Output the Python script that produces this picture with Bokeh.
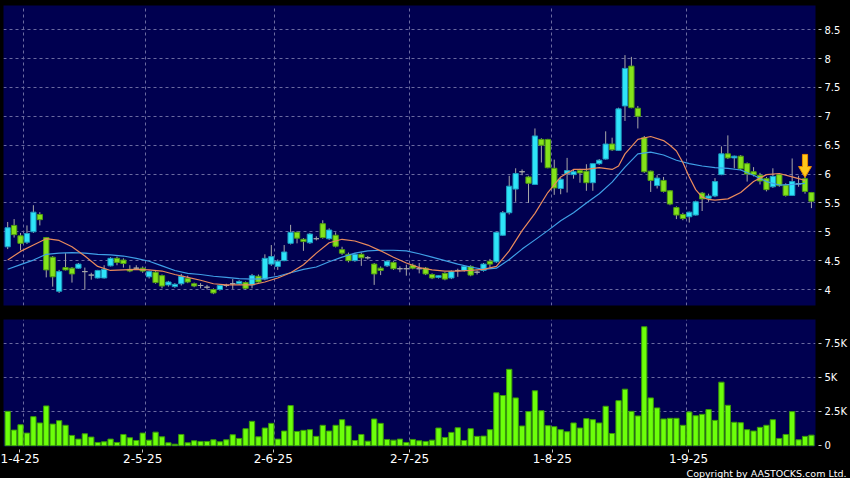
from bokeh.plotting import figure
from bokeh.layouts import column
from bokeh.models import Range1d, FixedTicker, Grid, Title, ColumnDataSource
from bokeh.embed import file_html
from bokeh.resources import INLINE

# ---------------- data ----------------
opens = [4.74,5.11,4.93,4.82,5.00,5.30,4.90,4.56,3.97,4.38,
         4.37,4.37,4.31,4.25,4.20,4.20,4.41,4.54,4.51,4.35,
         4.37,4.37,4.22,4.30,4.24,4.08,4.05,4.10,4.19,4.10,
         4.07,4.04,4.00,4.00,4.07,4.10,4.10,4.12,4.08,4.23,
         4.18,4.44,4.40,4.50,4.80,4.99,4.87,4.81,4.88,5.14,
         4.88,4.94,4.69,4.61,4.50,4.61,4.55,4.44,4.37,4.41,
         4.47,4.36,4.36,4.42,4.36,4.37,4.26,4.21,4.28,4.20,
         4.33,4.33,4.40,4.30,4.33,4.49,4.48,4.94,5.33,5.74,
         6.04,5.95,5.82,6.60,6.60,6.10,5.75,6.01,5.99,6.06,
         6.05,5.85,6.18,6.26,6.52,6.41,7.18,7.87,7.14,6.63,
         6.05,5.80,5.89,5.71,5.42,5.30,5.26,5.29,5.67,5.58,
         5.62,5.99,6.35,6.28,6.31,6.18,6.04,5.98,5.92,5.78,
         5.99,5.81,5.63,5.83,5.92,5.68]
highs = [5.17,5.22,4.98,5.11,5.46,5.34,4.91,4.58,4.34,4.63,
         4.39,4.46,4.38,4.29,4.34,4.42,4.56,4.57,4.54,4.42,
         4.42,4.40,4.33,4.32,4.26,4.15,4.11,4.27,4.24,4.12,
         4.11,4.08,4.02,4.09,4.10,4.18,4.16,4.14,4.27,4.26,
         4.61,4.77,4.52,4.77,5.12,5.01,4.89,4.98,4.92,5.20,
         5.06,4.99,4.74,4.64,4.63,4.64,4.58,4.46,4.40,4.51,
         4.49,4.40,4.43,4.45,4.46,4.39,4.28,4.25,4.30,4.33,
         4.36,4.42,4.42,4.33,4.46,4.53,5.00,5.36,5.97,6.10,
         6.08,5.97,6.79,6.62,6.61,6.25,5.94,6.28,6.08,6.09,
         6.17,6.18,6.26,6.74,6.63,7.15,8.06,8.03,7.18,6.66,
         6.06,5.98,5.95,5.72,5.44,5.33,5.35,5.54,5.69,5.66,
         5.93,6.48,6.67,6.32,6.33,6.20,6.12,6.02,5.95,6.10,
         6.01,5.84,6.27,5.97,5.96,5.69]
lows = [4.70,4.90,4.68,4.79,4.98,5.11,4.21,4.05,3.94,4.33,
        4.12,4.36,4.00,4.17,4.19,4.19,4.40,4.42,4.38,4.30,
        4.34,4.29,4.19,4.10,4.02,4.05,4.03,4.07,4.11,4.04,
        4.02,4.00,3.92,3.98,4.04,4.01,4.08,4.00,4.02,4.12,
        4.16,4.41,4.34,4.49,4.78,4.80,4.67,4.79,4.85,4.88,
        4.86,4.73,4.60,4.47,4.48,4.41,4.52,4.08,4.25,4.39,
        4.34,4.30,4.24,4.35,4.28,4.25,4.18,4.19,4.16,4.18,
        4.22,4.31,4.23,4.26,4.31,4.38,4.46,4.93,5.30,5.52,
        5.98,5.50,5.81,6.20,6.10,5.64,5.65,5.68,5.92,5.85,
        5.71,5.71,6.16,6.25,6.40,6.40,6.92,7.14,6.79,6.02,
        5.69,5.75,5.68,5.46,5.22,5.20,5.16,5.28,5.36,5.52,
        5.60,5.98,6.26,6.10,6.07,5.87,5.96,5.82,5.70,5.76,
        5.78,5.61,5.62,5.78,5.66,5.41]
closes = [5.07,4.95,4.80,4.97,5.34,5.21,4.34,4.22,4.31,4.34,
          4.27,4.44,4.31,4.25,4.33,4.35,4.54,4.47,4.45,4.32,
          4.37,4.32,4.31,4.12,4.06,4.13,4.09,4.23,4.13,4.06,
          4.07,4.04,3.94,4.07,4.07,4.10,4.14,4.02,4.24,4.13,
          4.54,4.57,4.49,4.65,4.99,4.89,4.83,4.96,4.88,4.90,
          5.03,4.75,4.63,4.50,4.61,4.55,4.55,4.27,4.33,4.49,
          4.36,4.36,4.36,4.37,4.36,4.27,4.20,4.24,4.18,4.31,
          4.33,4.40,4.25,4.30,4.44,4.44,4.99,5.33,5.79,6.01,
          6.04,5.84,6.66,6.50,6.11,5.76,5.91,6.06,6.04,6.02,
          5.85,6.18,6.24,6.52,6.42,7.13,7.83,7.15,7.00,6.04,
          5.89,5.93,5.70,5.48,5.29,5.23,5.34,5.52,5.57,5.62,
          5.87,6.35,6.28,6.31,6.09,6.00,5.99,5.88,5.73,5.96,
          5.80,5.63,5.87,5.83,5.70,5.53]
volumes = [2520,1150,1540,930,2130,1670,2915,1590,1840,1500,
           760,490,880,640,245,295,490,245,830,590,
           390,930,415,1000,660,220,120,830,220,370,
           320,320,440,295,440,810,540,1250,1790,660,
           1300,1640,490,1080,2940,1050,1130,1180,690,1500,
           1080,1500,1910,1450,390,830,340,1960,1640,465,
           415,490,245,465,370,320,415,
           1300,610,980,1320,390,1250,690,710,1180,3870,
           3675,5590,3500,1450,2500,4020,2570,1470,1400,1180,
           1030,1670,1300,1985,1910,1670,2890,900,3300,4140,
           2520,2180,8700,3500,2770,1960,2010,2010,1500,2470,
           2200,2300,2650,1860,4650,2960,1720,1690,1180,1080,
           1350,1500,1910,540,830,2500,440,690,780]

ma_short_idx = [0,2,4,6,8,10,12,14,16,18,20,22,24,26,28,30,32,34,36,38,
                40,42,44,46,48,50,52,54,56,58,60,62,64,66,68,70,72,74,76,78,
                80,82,84,86,88,90,92,94,95,96,98,100,102,103,104,105,106,107,
                108,109,110,112,114,116,118,120,122,124]
ma_short = [4.51,4.66,4.77,4.88,4.85,4.74,4.58,4.40,4.33,4.34,
            4.35,4.34,4.32,4.26,4.21,4.16,4.10,4.08,4.08,4.08,
            4.13,4.20,4.29,4.43,4.63,4.81,4.87,4.84,4.77,4.67,
            4.56,4.46,4.38,4.34,4.32,4.32,4.33,4.35,4.40,4.67,
            5.02,5.32,5.68,5.95,6.08,6.08,6.11,6.08,
            6.14,6.35,6.60,6.65,6.58,6.50,6.40,6.20,5.95,5.73,
            5.60,5.56,5.55,5.57,5.68,5.87,5.99,6.01,5.95,5.89]
ma_long_idx = [0,2,4,6,8,10,12,14,16,18,20,22,24,26,28,30,32,34,36,38,
               40,42,44,46,48,50,52,54,56,58,60,62,64,66,68,70,72,74,76,78,
               80,82,84,86,88,90,92,94,96,98,100,102,104,106,108,110,112,114,
               116,118,120,122,124]
ma_long = [4.35,4.43,4.51,4.61,4.63,4.64,4.63,4.61,4.60,4.58,
           4.54,4.49,4.41,4.33,4.28,4.26,4.23,4.21,4.19,4.18,
           4.19,4.23,4.29,4.35,4.39,4.48,4.56,4.63,4.67,4.68,
           4.68,4.67,4.62,4.56,4.50,4.44,4.39,4.35,4.37,4.52,
           4.70,4.86,5.02,5.19,5.33,5.50,5.66,5.86,6.12,6.35,
           6.38,6.33,6.24,6.18,6.14,6.11,6.10,6.07,5.98,5.87,
           5.81,5.82,5.84]

month_first_idx = [3, 22, 42, 63, 85, 106]
date_tick_pos = [1.9, 21.0, 41.3, 62.5, 84.7, 105.9]
date_labels = ["1-4-25", "2-5-25", "2-6-25", "2-7-25", "1-8-25", "1-9-25"]
price_ticks = [4, 4.5, 5, 5.5, 6, 6.5, 7, 7.5, 8, 8.5]
vol_ticks = [0, 2500, 5000, 7500]
vol_labels = ["0", "2.5K", "5K", "7.5K"]
arrow_idx = 124
arrow_tip = 5.94

# ---------------- styles ----------------
NAVY = "#000050"
GRID = "#6a6aa0"
FONT = "DejaVu Sans"
UP_FILL, UP_LINE = "#2ee4f8", "#1d9cc0"
DN_FILL, DN_LINE = "#84e31a", "#4f9c12"
DOJI = "#a8a8a8"

n = len(opens)
xs = list(range(n))
tops = [max(o, c) for o, c in zip(opens, closes)]
bots = [min(o, c) for o, c in zip(opens, closes)]
fills = [UP_FILL if c > o else (DN_FILL if c < o else DOJI) for o, c in zip(opens, closes)]
lines = [UP_LINE if c > o else (DN_LINE if c < o else DOJI) for o, c in zip(opens, closes)]
src = ColumnDataSource(dict(x=xs, top=tops, bottom=bots, high=highs, low=lows,
                            fill=fills, line=lines, vol=volumes))

x_lo, x_hi = -0.65, 125.63
grid_x = [m - 0.5 for m in month_first_idx]


def style_common(fig):
    for g in list(fig.grid):
        g.visible = False
    fig.add_layout(Grid(dimension=0, ticker=FixedTicker(ticks=grid_x),
                        grid_line_color=GRID, grid_line_dash="3 3", grid_line_width=1))
    ax = fig.yaxis[0]
    ax.axis_line_color = None
    ax.major_tick_line_color = "#c8c8c8"
    ax.minor_tick_line_color = None
    ax.major_tick_in = -3
    ax.major_tick_out = 6
    ax.major_label_standoff = 3
    ax.major_label_text_color = "#ffffff"
    ax.major_label_text_font = FONT
    ax.major_label_text_font_size = "10px"


# ---------------- price panel ----------------
p = figure(width=850, height=312, x_range=Range1d(x_lo, x_hi), y_range=Range1d(3.723, 8.92),
           x_axis_location=None, y_axis_location="right",
           output_backend="svg", toolbar_location=None,
           min_border_left=3, min_border_right=35, min_border_top=5, min_border_bottom=7,
           background_fill_color=NAVY, border_fill_color="#000000", outline_line_color=None)
style_common(p)
p.yaxis[0].ticker = FixedTicker(ticks=price_ticks)
p.yaxis[0].major_label_overrides = {t: f"{t:g}" for t in price_ticks}
p.add_layout(Grid(dimension=1, ticker=FixedTicker(ticks=price_ticks),
                  grid_line_color=GRID, grid_line_dash="3 3", grid_line_width=1))

p.segment(x0="x", y0="low", x1="x", y1="high", source=src, line_color=DOJI, line_width=1)
p.vbar(x="x", top="top", bottom="bottom", width=0.82, source=src,
       fill_color="fill", line_color="line", line_width=1)
p.line(ma_long_idx, ma_long, line_color="#3f9fe6", line_width=1.2)
p.line(ma_short_idx, ma_short, line_color="#e98a5c", line_width=1.2)

# highlight arrow above the latest-but-one candle
ax_, at_ = arrow_idx, arrow_tip
p.patch([ax_, ax_ - 1.0, ax_ - 0.4, ax_ - 0.4, ax_ + 0.4, ax_ + 0.4, ax_ + 1.0],
        [at_, at_ + 0.19, at_ + 0.19, at_ + 0.40, at_ + 0.40, at_ + 0.19, at_ + 0.19],
        fill_color="#ffc81a", line_color="#e88a00", line_width=1)

# ---------------- volume panel ----------------
v = figure(width=850, height=166, x_range=p.x_range, y_range=Range1d(-50, 9230),
           x_axis_location="below", y_axis_location="right",
           output_backend="svg", toolbar_location=None,
           min_border_left=3, min_border_right=35, min_border_top=7, min_border_bottom=0,
           background_fill_color=NAVY, border_fill_color="#000000", outline_line_color=None)
style_common(v)
v.yaxis[0].ticker = FixedTicker(ticks=vol_ticks)
v.yaxis[0].major_label_overrides = dict(zip(vol_ticks, vol_labels))
v.add_layout(Grid(dimension=1, ticker=FixedTicker(ticks=vol_ticks[1:]),
                  grid_line_color=GRID, grid_line_dash="3 3", grid_line_width=1))
xa = v.xaxis[0]
xa.ticker = FixedTicker(ticks=date_tick_pos)
xa.major_label_overrides = dict(zip(date_tick_pos, date_labels))
xa.axis_line_color = None
xa.major_tick_line_color = "#c8c8c8"
xa.minor_tick_line_color = None
xa.major_tick_in = -3
xa.major_tick_out = 6
xa.major_label_standoff = 1
xa.major_label_text_color = "#ffffff"
xa.major_label_text_font = FONT
xa.major_label_text_font_size = "12px"

v.vbar(x="x", top="vol", bottom=0, width=0.82, source=src,
       fill_color="#6cff0a", line_color="#3a9a08", line_width=1)

v.add_layout(Title(text="Copyright by AASTOCKS.com Ltd.", align="right", text_color="#ffffff",
                   text_font=FONT, text_font_size="9.5px", text_font_style="normal",
                   standoff=0, offset=-31), "below")

layout = column(p, v, spacing=0)
html = file_html(layout, INLINE, title="chart")
html = html.replace("</head>", "<style>html,body{margin:0;padding:0;background:#000000;overflow:hidden;}</style></head>", 1)
open("out.html", "w").write(html)
